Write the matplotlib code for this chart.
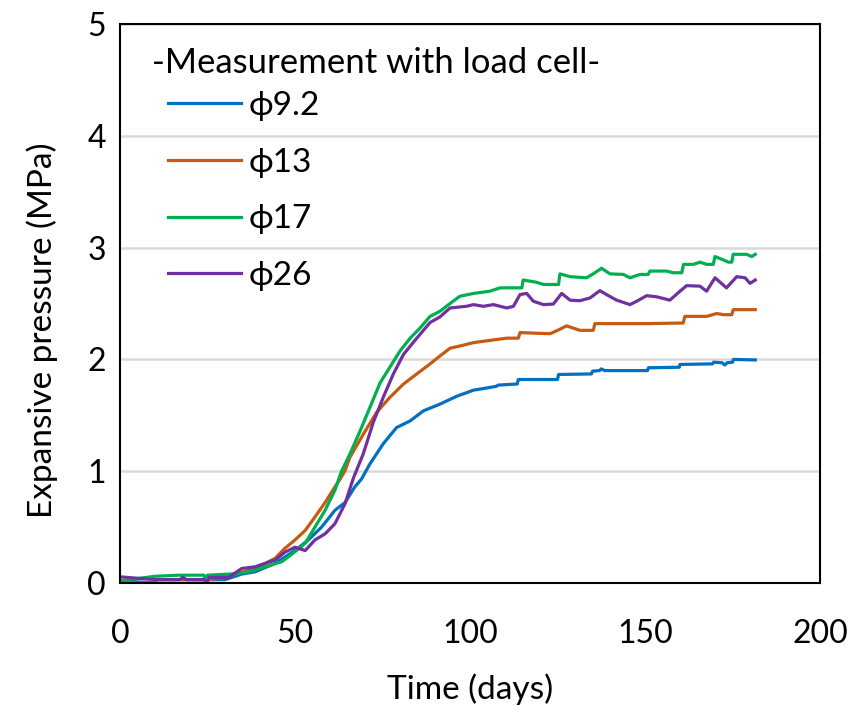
# Expansive pressure measured with load cell, four diameters
import matplotlib.pyplot as plt

# Series data (time in days, pressure in MPa)
t_92 = [0, 10, 10.5, 30, 34.8, 38.6, 44.3, 50, 53.8, 57.6, 61.4, 64.3, 67.1, 69, 71.4, 75.2, 79, 82.9, 86.7,
        91.4, 96.2, 101, 104, 107.6, 108, 113.5, 113.8, 125, 125.3, 134.7, 135, 137, 137.5, 138.5, 150.7, 151,
        159.8, 160, 169.3, 169.6, 172, 172.8, 173.5, 175, 175.3, 181.5]
p_92 = [0.02, 0.0, 0.03, 0.03, 0.08, 0.10, 0.175, 0.29, 0.385, 0.50, 0.65, 0.72, 0.86, 0.93, 1.065, 1.245, 1.39,
        1.45, 1.54, 1.60, 1.67, 1.725, 1.74, 1.76, 1.77, 1.78, 1.82, 1.82, 1.865, 1.87, 1.895, 1.90, 1.915, 1.90,
        1.90, 1.925, 1.93, 1.955, 1.96, 1.975, 1.97, 1.95, 1.97, 1.975, 2.00, 1.995]

t_13 = [0, 10, 10.5, 25, 30, 32.9, 38.6, 44.3, 47.1, 50, 52.9, 55.7, 58.6, 61.4, 62.9, 64.3, 65.7, 69.5, 73.3,
        77.1, 81, 84.8, 88.6, 91.4, 94.3, 97.1, 101, 105.7, 110.5, 113.8, 114.3, 118.1, 122.9, 125.7, 127.6,
        131.4, 133.3, 135.2, 135.7, 141, 150.5, 159.5, 160.9, 161.4, 167.6, 170.5, 172.4, 174.8, 175.2, 181.5]
p_13 = [0.0, 0.0, 0.03, 0.03, 0.05, 0.08, 0.13, 0.22, 0.31, 0.385, 0.47, 0.59, 0.72, 0.86, 0.93, 1.005, 1.125,
        1.33, 1.525, 1.66, 1.78, 1.87, 1.96, 2.03, 2.10, 2.12, 2.15, 2.17, 2.19, 2.19, 2.24, 2.235, 2.23, 2.27,
        2.30, 2.26, 2.26, 2.26, 2.32, 2.32, 2.32, 2.325, 2.325, 2.385, 2.385, 2.41, 2.40, 2.40, 2.445, 2.445]

t_17 = [0, 10, 17, 24, 24.3, 25, 31.6, 36.7, 41.4, 46.2, 50, 52.9, 55.7, 58.6, 61.4, 63.3, 65.7, 68.6, 71.4,
        74.3, 77.1, 80, 82.9, 85.7, 88.6, 91.4, 94.3, 97.1, 101, 105.7, 108.6, 113.3, 114.8, 115.2, 119, 121,
        123.8, 125.3, 125.7, 128.6, 133.3, 135.2, 137.6, 140, 143.8, 145.7, 148.6, 150.9, 151.4, 156.2, 158.1,
        160.5, 161, 163.8, 165.7, 167.6, 169.5, 170, 172.4, 173.8, 174.8, 175.2, 179, 180.5, 181.5]
p_17 = [0.02, 0.06, 0.07, 0.07, 0.03, 0.07, 0.08, 0.10, 0.145, 0.19, 0.28, 0.355, 0.50, 0.65, 0.83, 1.0, 1.155,
        1.36, 1.57, 1.79, 1.93, 2.075, 2.19, 2.28, 2.385, 2.43, 2.50, 2.565, 2.59, 2.61, 2.64, 2.64, 2.64, 2.71,
        2.69, 2.67, 2.67, 2.67, 2.765, 2.74, 2.73, 2.765, 2.815, 2.765, 2.76, 2.73, 2.76, 2.76, 2.79, 2.79,
        2.775, 2.775, 2.85, 2.85, 2.87, 2.85, 2.85, 2.92, 2.89, 2.87, 2.87, 2.94, 2.94, 2.92, 2.94]

t_26 = [0, 10, 17, 18, 19, 24, 24.8, 25.5, 31, 34.8, 38.6, 41.4, 44.3, 47.1, 50, 52.9, 55.7, 58.6, 61.4, 64.3,
        66.7, 69.5, 72.4, 75.2, 78.1, 81, 84.8, 88.6, 91.4, 94.3, 99, 101, 103.8, 106.7, 110.5, 112.4, 114.3,
        116.2, 118.1, 121, 123.8, 126.2, 128.6, 131.4, 134.3, 137.1, 139, 141.9, 145.7, 147.6, 150.5, 153.3,
        157.1, 160, 161.9, 165.7, 167.6, 170, 173.3, 176.2, 178.6, 180, 181.5]
p_26 = [0.055, 0.03, 0.03, 0.05, 0.03, 0.03, 0.0, 0.05, 0.05, 0.13, 0.145, 0.175, 0.205, 0.275, 0.32, 0.29,
        0.385, 0.44, 0.53, 0.71, 0.94, 1.155, 1.44, 1.66, 1.87, 2.045, 2.19, 2.33, 2.38, 2.46, 2.475, 2.49,
        2.475, 2.49, 2.46, 2.475, 2.58, 2.59, 2.52, 2.49, 2.495, 2.59, 2.53, 2.525, 2.55, 2.615, 2.58, 2.53,
        2.49, 2.52, 2.57, 2.56, 2.53, 2.61, 2.66, 2.655, 2.61, 2.73, 2.64, 2.74, 2.73, 2.68, 2.71]

labels = ["ϕ9.2", "ϕ13", "ϕ17", "ϕ26"]
colors = ["#0070C0", "#C55A11", "#00B050", "#7030A0"]

plt.rcParams['font.family'] = ['Lato', 'DejaVu Sans']

fig = plt.figure(figsize=(8.53, 7.18), dpi=100)
ax = fig.add_axes([120 / 853, 135 / 718, 700 / 853, 559 / 718])

# Plot the four curves
for t, p, lab, c in zip([t_92, t_13, t_17, t_26], [p_92, p_13, p_17, p_26], labels, colors):
    ax.plot(t, p, color=c, lw=2.3, label=lab)

ax.set_xlim(0, 200)
ax.set_ylim(0, 5)
ax.set_xticks([0, 50, 100, 150, 200])
ax.set_yticks([0, 1, 2, 3, 4, 5])

# Excel-like look: light grid, black box, no tick marks
ax.grid(axis='y', color='#d9d9d9', lw=1.8)
ax.set_axisbelow(True)
for s in ax.spines.values():
    s.set_color('black')
    s.set_linewidth(1.5)
ax.tick_params(axis='both', length=0, labelsize=23)
ax.tick_params(axis='x', pad=26)
ax.tick_params(axis='y', pad=10)

ax.set_xlabel("Time (days)", fontsize=24)
ax.set_ylabel("Expansive pressure (MPa)", fontsize=24)
ax.xaxis.set_label_coords(0.5, -0.161)
ax.yaxis.set_label_coords(-0.089, 0.453)

# Legend title drawn as text, entries indented a little under it
fig.text(152 / 853, 1 - 73 / 718, "-Measurement with load cell-", fontsize=25, va='baseline', ha='left')
leg = ax.legend(loc='upper left', bbox_to_anchor=(168 / 853, 1 - 91 / 718), bbox_transform=fig.transFigure,
                frameon=False, fontsize=24, handlelength=2.2, handletextpad=0.22,
                labelspacing=0.8, borderpad=0, borderaxespad=0)

plt.savefig("out.png", dpi=100)
